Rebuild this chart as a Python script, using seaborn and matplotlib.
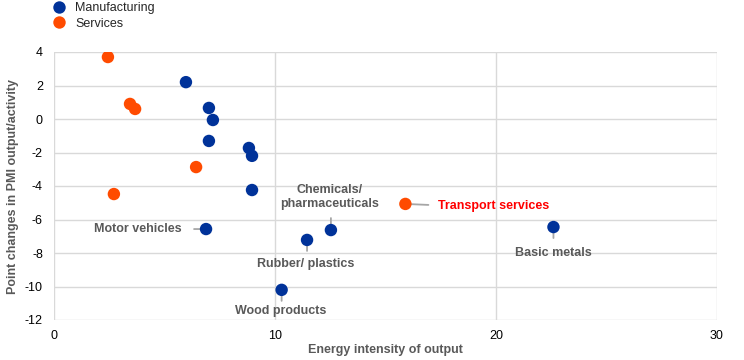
import matplotlib
matplotlib.use("Agg")
import matplotlib.pyplot as plt
import seaborn as sns
import pandas as pd

# Data
manu_x = [5.97, 7.01, 7.19, 7.01, 8.82, 8.96, 8.96, 6.88, 11.45, 12.53, 22.6, 10.3]
manu_y = [2.2, 0.66, -0.06, -1.31, -1.73, -2.2, -4.24, -6.57, -7.22, -6.63, -6.45, -10.2]
manu_lab = ["", "", "", "", "", "", "", "Motor vehicles", "Rubber/ plastics",
            "Chemicals/\npharmaceuticals", "Basic metals", "Wood products"]
serv_x = [2.44, 3.44, 3.67, 6.43, 2.71, 15.9]
serv_y = [3.70, 0.9, 0.6, -2.87, -4.48, -5.07]
serv_lab = ["", "", "", "", "", "Transport services"]

df = pd.DataFrame({
    "x": manu_x + serv_x,
    "y": manu_y + serv_y,
    "sector": ["Manufacturing"] * len(manu_x) + ["Services"] * len(serv_x),
    "label": manu_lab + serv_lab,
})

sns.set_style("white")
plt.rcParams["font.family"] = ["Liberation Sans", "DejaVu Sans"]
plt.rcParams["axes.unicode_minus"] = False

fig = plt.figure(figsize=(7.44, 3.6), dpi=100)
ax = fig.add_axes([54/744, 40/360, (717-54)/744, (320-52)/360])

palette = {"Manufacturing": "#003299", "Services": "#FF4B00"}
sns.scatterplot(data=df, x="x", y="y", hue="sector", palette=palette, s=80,
                edgecolor="none", ax=ax, zorder=3, legend=True)

ax.set_xlim(0, 30)
ax.set_ylim(-12, 4)
ax.set_xticks([0, 10, 20, 30])
ax.set_yticks(range(-12, 5, 2))
ax.grid(True, color="#d9d9d9", linewidth=1)
for s in ax.spines.values():
    s.set_visible(False)
ax.tick_params(axis="both", length=0, labelsize=9, colors="black", pad=8)
ax.tick_params(axis="x", pad=7)
ax.set_xlabel("Energy intensity of output", fontsize=9, fontweight="bold", color="#595959", labelpad=2)
ax.set_ylabel("Point changes in PMI output/activity", fontsize=9, fontweight="bold", color="#595959", labelpad=4)

# Annotations (offsets in pixels): text offset, connector far-end offset
ann = {
    "Motor vehicles": dict(off=(-24, 0), ha="right", va="center", end=(-12, 0), color="#595959"),
    "Rubber/ plastics": dict(off=(-1, -24), ha="center", va="center", end=(0, -11), color="#595959"),
    "Chemicals/\npharmaceuticals": dict(off=(-1, 33), ha="center", va="center", end=(0, 12), color="#595959"),
    "Basic metals": dict(off=(0, -26), ha="center", va="center", end=(0, -11), color="#595959"),
    "Wood products": dict(off=(-1, -21), ha="center", va="center", end=(0, -11), color="#595959"),
    "Transport services": dict(off=(33, -2), ha="left", va="center", end=(23, -1), color="#FF0000"),
}
for _, r in df[df["label"] != ""].iterrows():
    a = ann[r["label"]]
    ax.annotate(r["label"], (r["x"], r["y"]), xytext=a["off"], textcoords="offset pixels",
                ha=a["ha"], va=a["va"], fontsize=9, fontweight="bold", color=a["color"],
                linespacing=1.15, zorder=4)
    ax.annotate("", (r["x"], r["y"]), xytext=a["end"], textcoords="offset pixels",
                arrowprops=dict(arrowstyle="-", color="#a6a6a6", lw=1.3,
                                shrinkA=0, shrinkB=2),
                zorder=2)

h, l = ax.get_legend_handles_labels()
ax.legend_.remove()
fig.legend(h, l, loc="upper left", bbox_to_anchor=(48/744, 1.008), frameon=False,
           fontsize=9, handletextpad=0.8, labelspacing=0.3, markerscale=1.0,
           borderaxespad=0, handlelength=1.0)

fig.savefig("out.png", dpi=100)
